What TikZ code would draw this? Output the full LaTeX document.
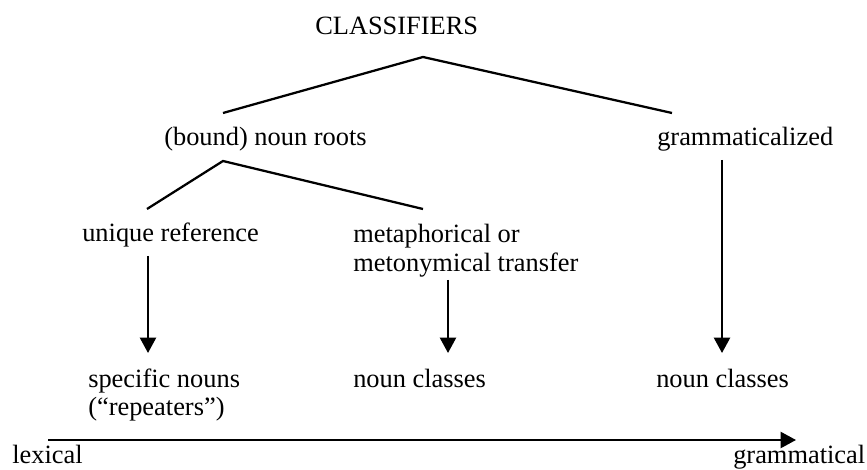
\documentclass[tikz,border=0pt]{standalone}
\usepackage{fontspec}
\setmainfont{Liberation Serif}
\usetikzlibrary{arrows.meta}

\tikzset{
  lbl/.style={anchor=base west,inner sep=0pt,font=\fontsize{19.8}{23}\selectfont},
  branch/.style={line width=1.7pt},
  arr/.style={line width=1.7pt,-{Triangle[length=11.5pt,width=12pt]}}
}

\begin{document}
\begin{tikzpicture}[x=0.75pt,y=-0.75pt]
  \useasboundingbox (0,0) rectangle (867,470);
  % labels
  \node[lbl] (cls) at (315,35) {CLASSIFIERS};
  \node[lbl] (roots) at (164,146) {(bound) noun roots};
  \node[lbl] (gramz) at (657,146) {grammaticalized};
  \node[lbl] (uniq) at (82,242) {unique reference};
  \node[lbl] (meta) at (353,243) {metaphorical or};
  \node[lbl] (meto) at (353,272) {metonymical transfer};
  \node[lbl] (spec) at (88,387) {specific nouns};
  \node[lbl] (rep) at (88,415.5) {(``repeaters'')};
  \node[lbl] (ncA) at (353,387) {noun classes};
  \node[lbl] (ncB) at (656,387) {noun classes};
  \node[lbl] (lex) at (12,463) {lexical};
  \node[lbl] (gram) at (733,463) {grammatical};
  % tree joints
  \coordinate (top) at (423,57);
  \coordinate (topL) at (223,113);
  \coordinate (topR) at (672,113);
  \coordinate (mid) at (223,161);
  \coordinate (midL) at (147,209);
  \coordinate (midR) at (423,209);
  \draw[branch] (topL) -- (top) -- (topR);
  \draw[branch] (midL) -- (mid) -- (midR);
  % arrows
  \coordinate (a1) at (148,256);
  \coordinate (a2) at (448,280);
  \coordinate (a3) at (722,160);
  \draw[arr] (a1) -- (a1 |- 0,353);
  \draw[arr] (a2) -- (a2 |- 0,353);
  \draw[arr] (a3) -- (a3 |- 0,353);
  % scale
  \coordinate (s0) at (48,440);
  \coordinate (s1) at (796,440);
  \draw[arr] (s0) -- (s1);
\end{tikzpicture}
\end{document}
